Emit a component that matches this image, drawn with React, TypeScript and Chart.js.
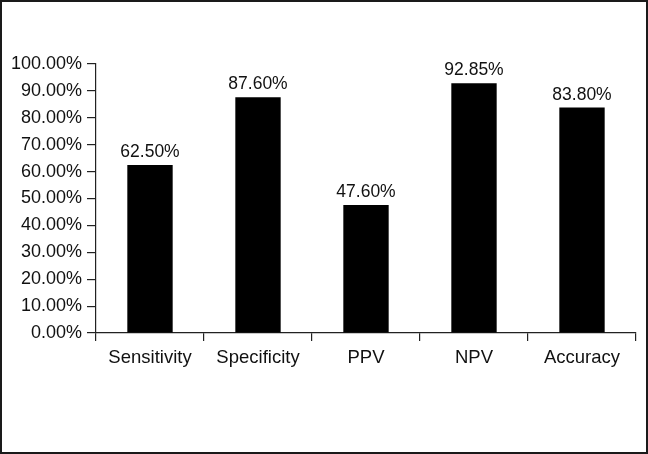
import React, { useEffect, useRef } from "react";
import { Chart, registerables } from "chart.js";

Chart.register(...registerables);

const categories = ["Sensitivity", "Specificity", "PPV", "NPV", "Accuracy"];
const values = [62.5, 87.6, 47.6, 92.85, 83.8];
const valueLabels = ["62.50%", "87.60%", "47.60%", "92.85%", "83.80%"];

const FONT = "'Liberation Sans', Arial, sans-serif";

const valueLabelPlugin = {
  id: "valueLabels",
  afterDatasetsDraw(chart: any) {
    const ctx = chart.ctx;
    const meta = chart.getDatasetMeta(0);
    ctx.save();
    ctx.fillStyle = "#111";
    ctx.font = `17.5px ${FONT}`;
    ctx.textAlign = "center";
    ctx.textBaseline = "bottom";
    meta.data.forEach((bar: any, i: number) => {
      ctx.fillText(valueLabels[i], bar.x, bar.y - 4);
    });
    ctx.restore();
  },
};

const framePlugin = {
  id: "frame",
  afterDraw(chart: any) {
    const ctx = chart.ctx;
    ctx.save();
    ctx.strokeStyle = "#1a1a1a";
    ctx.lineWidth = 2;
    ctx.strokeRect(1, 1, chart.width - 2, chart.height - 2);
    ctx.restore();
  },
};

export default function App() {
  const ref = useRef<HTMLCanvasElement>(null);
  useEffect(() => {
    if (!ref.current) return;
    const chart = new Chart(ref.current, {
      type: "bar",
      data: {
        labels: categories,
        datasets: [
          {
            data: values,
            backgroundColor: "#000",
            borderWidth: 0,
            barPercentage: 0.84,
            categoryPercentage: 0.5,
          },
        ],
      },
      options: {
        animation: false,
        responsive: false,
        maintainAspectRatio: false,
        layout: { padding: { left: 0, right: 12, top: 64, bottom: 81 } },
        plugins: { legend: { display: false }, tooltip: { enabled: false } },
        scales: {
          x: {
            offset: true,
            grid: {
              offset: true,
              drawOnChartArea: false,
              drawTicks: true,
              tickLength: 8,
              color: "#222",
              lineWidth: 1.2,
            },
            border: { display: true, color: "#222", width: 1.2 },
            ticks: {
              color: "#111",
              font: { family: FONT, size: 18.5 },
              padding: 6,
              maxRotation: 0,
            },
            afterFit(scale: any) {
              scale.height = 40;
            },
          },
          y: {
            min: 0,
            max: 100,
            grid: {
              drawOnChartArea: false,
              drawTicks: true,
              tickLength: 9,
              color: "#222",
              lineWidth: 1.2,
            },
            border: { display: true, color: "#222", width: 1.2 },
            ticks: {
              stepSize: 10,
              color: "#111",
              font: { family: FONT, size: 18 },
              padding: 5,
              callback: (v: any) => Number(v).toFixed(2) + "%",
            },
            afterFit(scale: any) {
              scale.width = 96;
            },
          },
        },
      },
      plugins: [valueLabelPlugin, framePlugin],
    });
    return () => chart.destroy();
  }, []);
  return (
    <div style={{ position: "fixed", left: 0, top: 0, width: 648, height: 454, background: "#fff" }}>
      <canvas ref={ref} width={648} height={454} style={{ display: "block", width: 648, height: 454 }} />
    </div>
  );
}
